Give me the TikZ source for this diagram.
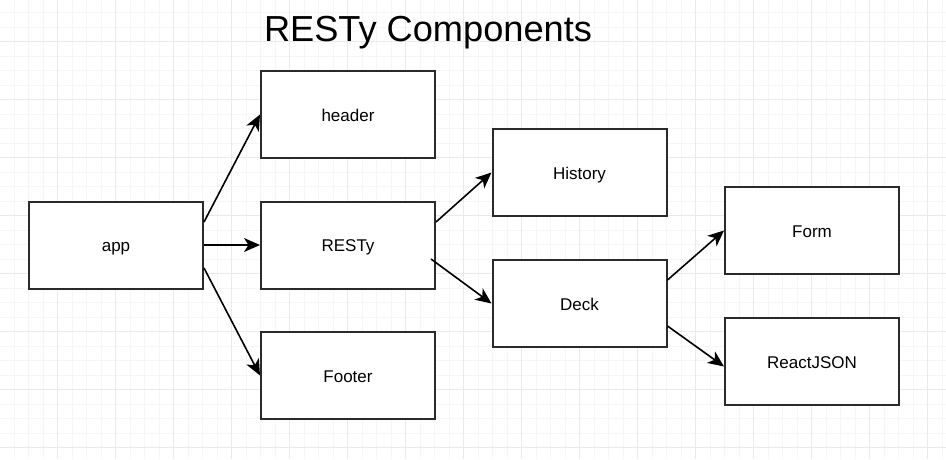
\documentclass[tikz,border=0pt]{standalone}
\usepackage{fontspec}
\setmainfont{Liberation Sans}
\usetikzlibrary{arrows.meta}
\definecolor{gridminor}{HTML}{F6F6F6}
\definecolor{gridmajor}{HTML}{EAEAEA}
\definecolor{boxline}{HTML}{2A2A2A}
\tikzset{
  comp/.style={draw=boxline, line width=2pt, fill=white, minimum width=174pt, minimum height=87pt, inner sep=0pt, text height=13.4pt, text depth=0pt, font=\fontsize{17}{20}\selectfont},
  link/.style={draw=black, line width=1.6pt, -{Stealth[length=16pt,width=14pt,inset=4.5pt]}}
}
\begin{document}
\begin{tikzpicture}[x=1pt,y=-1pt]
\useasboundingbox[fill=white] (0,0) rectangle (946,459);
% grid
\foreach \k in {0,...,66}{
  \pgfmathsetmacro{\gx}{-0.5+14.5*\k}
  \draw[gridminor, line width=0.7pt] (\gx,0) -- (\gx,459);
}
\foreach \k in {0,...,33}{
  \pgfmathsetmacro{\gy}{-2+14.5*\k}
  \draw[gridminor, line width=0.7pt] (0,\gy) -- (946,\gy);
}
\foreach \k in {0,...,16}{
  \pgfmathsetmacro{\gx}{-0.5+58*\k}
  \draw[gridmajor, line width=0.8pt] (\gx,0) -- (\gx,459);
}
\foreach \k in {0,...,8}{
  \pgfmathsetmacro{\gy}{-16.5+58*\k}
  \draw[gridmajor, line width=0.8pt] (0,\gy) -- (946,\gy);
}
% title
\node[font=\fontsize{36.2}{42}\selectfont, anchor=base, inner sep=0pt] (title) at (428,41) {RESTy Components};
% boxes
\node[comp] (app) at (116,245) {app};
\node[comp] (header) at (348,114.5) {header};
\node[comp] (resty) at (348,245) {RESTy};
\node[comp] (footer) at (348,375.5) {Footer};
\node[comp] (history) at (579.5,172.5) {History};
\node[comp] (deck) at (579.5,303.5) {Deck};
\node[comp] (form) at (812,230.5) {Form};
\node[comp] (react) at (812,361.5) {ReactJSON};
% connectors
\draw[link] ([yshift=23pt]app.east) -- (header.west);
\draw[link] (app.east) -- (resty.west);
\draw[link] ([yshift=-23pt]app.east) -- (footer.west);
\draw[link] ([yshift=23pt]resty.east) -- (history.west);
\draw[link] ([xshift=-5pt,yshift=-14pt]resty.east) -- (deck.west);
\draw[link] ([yshift=23.5pt]deck.east) -- (form.west);
\draw[link] ([yshift=-22.5pt]deck.east) -- ([yshift=-5pt]react.west);
\end{tikzpicture}
\end{document}
